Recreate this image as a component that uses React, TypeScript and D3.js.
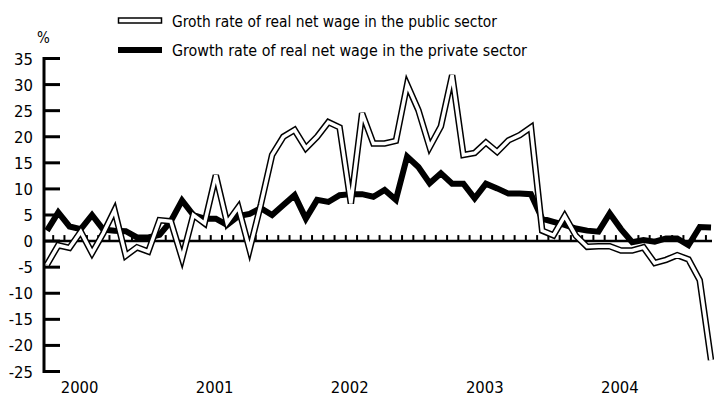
import React from "react";
import * as d3 from "d3";

// Monthly growth rates, Jan 2000 – Dec 2004 (%)
const publicSector: number[] = [
  -4.5, -0.8, -1.3, 1.8, -2.3, 1.5, 5.9, -2.8, -1.2, -2.0, 4.0, 3.8,
  -3.3, 5.0, 3.4, 12.6, 3.5, 6.5, -1.6, 7.0, 16.5, 20.0, 21.3, 17.8,
  20.0, 22.8, 21.8, 7.2, 24.5, 18.7, 18.7, 19.2, 30.0, 25.1, 18.0, 22.0,
  31.8, 16.5, 16.9, 18.9, 17.1, 19.3, 20.3, 21.8, 2.0, 1.1, 4.8, 1.0,
  -1.1, -1.0, -1.0, -1.8, -1.8, -1.2, -4.2, -3.6, -2.7, -3.5, -7.5, -22.8,
];
const privateSector: number[] = [
  2.0, 5.5, 2.8, 2.3, 5.0, 2.2, 2.0, 1.9, 0.7, 0.7, 1.2, 3.8,
  7.8, 5.0, 4.3, 4.3, 3.1, 4.8, 5.2, 6.3, 5.0, 6.9, 8.8, 4.3,
  7.9, 7.5, 8.8, 9.0, 9.0, 8.5, 9.8, 7.9, 16.2, 14.2, 11.1, 13.0,
  11.0, 11.0, 8.2, 11.0, 10.1, 9.1, 9.1, 9.0, 4.3, 3.7, 3.1, 2.4,
  2.0, 1.8, 5.3, 2.3, -0.2, 0.2, -0.1, 0.5, 0.5, -0.8, 2.7, 2.6,
];
const years: string[] = ["2000", "2001", "2002", "2003", "2004"];
const yTicks: number[] = [-25, -20, -15, -10, -5, 0, 5, 10, 15, 20, 25, 30, 35];
const legendLabels: string[] = [
  "Groth rate of real net wage in the public sector",
  "Growth rate of real net wage in the private sector",
];

const FONT = "'Liberation Sans Narrow', 'DejaVu Sans Condensed', 'Liberation Sans', sans-serif";

export default function App() {
  const W = 714;
  const H = 396;
  const x = d3.scaleLinear().domain([0, 59]).range([47, 711]);
  const y = d3.scaleLinear().domain([-25, 35]).range([371.5, 58.5]);
  const line = d3
    .line<number>()
    .x((_, i) => x(i))
    .y((d) => y(d));

  const axisX = 44;
  const minorTicks = d3.range(0, 59).map((i) => i + 0.55);

  return (
    <svg
      width={W}
      height={H}
      style={{ position: "absolute", left: 0, top: 0, background: "#fff" }}
      fontFamily={FONT}
    >
      {/* legend */}
      <rect x={118.5} y={18} width={43} height={5} fill="#fff" stroke="#000" strokeWidth={1.5} />
      <text x={172} y={26.5} fontSize={16.5} fill="#000" textLength={325} lengthAdjust="spacingAndGlyphs">{legendLabels[0]}</text>
      <rect x={118} y={47} width={44} height={6} fill="#000" />
      <text x={172} y={55.5} fontSize={16.5} fill="#000" textLength={355} lengthAdjust="spacingAndGlyphs">{legendLabels[1]}</text>

      {/* % label */}
      <text x={43.5} y={43} fontSize={15} textAnchor="middle" fill="#000">%</text>

      {/* y axis */}
      <line x1={axisX} x2={axisX} y1={y(35) - 1.5} y2={y(-25) + 1.5} stroke="#000" strokeWidth={3} />
      {yTicks.map((t) => (
        <g key={t}>
          <line x1={axisX} x2={axisX + 16} y1={y(t)} y2={y(t)} stroke="#000" strokeWidth={3} />
          <text x={33} y={y(t) + 6} fontSize={16.5} textAnchor="end" fill="#000">{t}</text>
        </g>
      ))}

      {/* zero line with monthly ticks */}
      <line x1={axisX} x2={712} y1={y(0)} y2={y(0)} stroke="#000" strokeWidth={2.5} />
      {minorTicks.map((m) => (
        <line key={m} x1={x(m)} x2={x(m)} y1={y(0)} y2={y(0) - 6} stroke="#000" strokeWidth={2} />
      ))}

      {/* x labels */}
      {years.map((yr, k) => (
        <text key={yr} x={x(12 * k + 2.9)} y={393} fontSize={16.5} textAnchor="middle" fill="#000">{yr}</text>
      ))}

      {/* private sector line */}
      <path d={line(privateSector) || ""} fill="none" stroke="#000" strokeWidth={6} strokeLinejoin="miter" strokeMiterlimit={4} />

      {/* public sector line (double) */}
      <path d={line(publicSector) || ""} fill="none" stroke="#000" strokeWidth={6.5} strokeLinejoin="miter" strokeMiterlimit={4} />
      <path d={line(publicSector) || ""} fill="none" stroke="#fff" strokeWidth={3.5} strokeLinejoin="miter" strokeMiterlimit={4} />
    </svg>
  );
}
